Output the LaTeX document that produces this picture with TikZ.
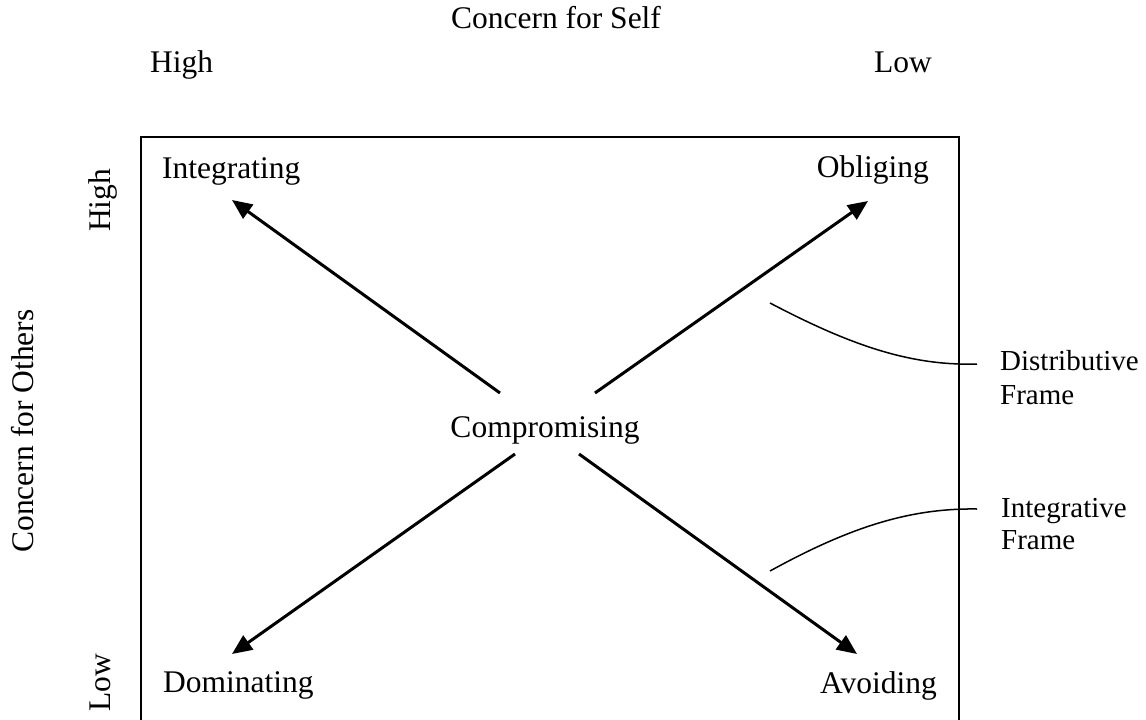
\documentclass[tikz,border=0pt]{standalone}
\usepackage{fontspec}
\setmainfont{Liberation Serif}
\usetikzlibrary{arrows.meta}
\begin{document}
\begin{tikzpicture}[x=1pt,y=-1pt,
  lbl/.style={inner sep=0pt,font=\fontsize{31.5}{33}\selectfont},
  sidelbl/.style={inner sep=0pt,font=\fontsize{29}{33}\selectfont},
  dirarrow/.style={line width=3pt,-{Triangle[length=20pt,width=17pt]}},
  frameline/.style={line width=2pt},
  bracket/.style={line width=1.5pt}]
\useasboundingbox (0,0) rectangle (1146,720);
% box (open at bottom)
\draw[frameline] (141,720) -- (141,137) -- (959,137) -- (959,720);
% top labels
\node[lbl,anchor=base] (cself) at (556,28) {Concern for Self};
\node[lbl,anchor=base west] (shigh) at (150,72) {High};
\node[lbl,anchor=base east] (slow) at (932,72) {Low};
% left labels
\node[lbl,rotate=90,anchor=base] (cothers) at (34,431) {Concern for Others};
\node[lbl,rotate=90,anchor=base west] (ohigh) at (110,232) {High};
\node[lbl,rotate=90,anchor=base west] (olow) at (110,712) {Low};
% quadrant labels
\node[lbl,anchor=base west] (int) at (162,178) {Integrating};
\node[lbl,anchor=base east] (obl) at (929,177) {Obliging};
\node[lbl,anchor=base] (comp) at (545,437) {Compromising};
\node[lbl,anchor=base west] (dom) at (163,692) {Dominating};
\node[lbl,anchor=base east] (avo) at (937,693) {Avoiding};
% arrow ends
\coordinate (nwS) at (500,393);
\coordinate (neS) at (595,393);
\coordinate (swS) at (515,454);
\coordinate (seS) at (579,454);
\coordinate (nwE) at (232,200);
\coordinate (neE) at (868,201);
\coordinate (swE) at (232,654);
\coordinate (seE) at (857,654);
\draw[dirarrow] (nwS) -- (nwE);
\draw[dirarrow] (neS) -- (neE);
\draw[dirarrow] (swS) -- (swE);
\draw[dirarrow] (seS) -- (seE);
% frame labels
\node[sidelbl,anchor=base west] (dist) at (1000,370) {Distributive};
\node[sidelbl,anchor=base west] (distf) at (1000,404) {Frame};
\node[sidelbl,anchor=base west] (integ) at (1001,517) {Integrative};
\node[sidelbl,anchor=base west] (integf) at (1001,549) {Frame};
\coordinate (dA) at (770,303);
\coordinate (dB) at (977,364);
\coordinate (iA) at (770,571);
\coordinate (iB) at (977,509);
\draw[bracket] (dA) .. controls (850,345) and (910,366) .. (dB);
\draw[bracket] (iA) .. controls (850,527) and (910,508) .. (iB);
\end{tikzpicture}
\end{document}
